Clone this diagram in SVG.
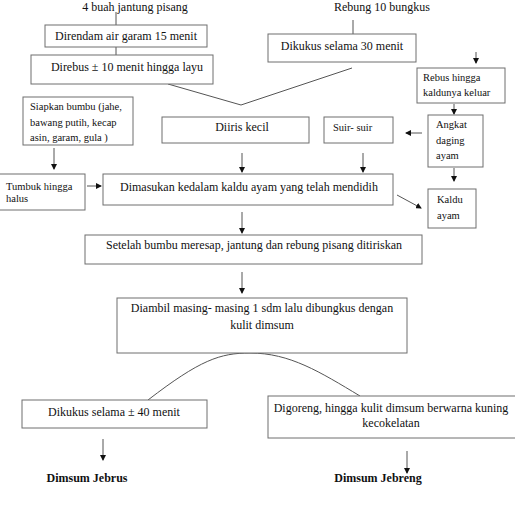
<svg xmlns="http://www.w3.org/2000/svg" width="515" height="509" viewBox="0 0 515 509" font-family="'Liberation Serif', 'Times New Roman', serif">
<defs>
<marker id="ah" markerWidth="6" markerHeight="6" refX="5" refY="3" orient="auto" markerUnits="userSpaceOnUse">
<path d="M0,0 L6,3 L0,6 Z" fill="#111"/>
</marker>
<style>
.box{fill:#fff;stroke:#6e6e6e;stroke-width:1}
.ln{fill:none;stroke:#555;stroke-width:1}
.ar{fill:none;stroke:#555;stroke-width:1;marker-end:url(#ah)}
text{font-family:'Liberation Serif', serif;fill:#111}
.m{font-size:12px}
.s{font-size:10.5px}
.c{text-anchor:middle}
.b{font-weight:bold;font-size:12px}
</style>
</defs>
<rect width="515" height="509" fill="#fff"/>
<g id="connectors">
<line class="ln" x1="116" y1="12" x2="116" y2="25"/>
<line class="ln" x1="116" y1="47" x2="116" y2="55"/>
<polyline class="ln" points="168,84 241,105 352,68"/>
<line class="ln" x1="353" y1="20" x2="353" y2="34"/>
<line class="ar" x1="476" y1="52" x2="476" y2="63"/>
<line class="ar" x1="454" y1="104" x2="454" y2="114"/>
<line class="ar" x1="422" y1="133" x2="406" y2="133"/>
<line class="ar" x1="363" y1="153" x2="363" y2="172"/>
<line class="ar" x1="242" y1="153" x2="242" y2="172"/>
<line class="ar" x1="54" y1="148" x2="54" y2="169"/>
<line class="ar" x1="87" y1="186" x2="101" y2="186"/>
<line class="ar" x1="454" y1="168" x2="454" y2="181"/>
<line class="ar" x1="397" y1="195" x2="421" y2="208"/>
<line class="ar" x1="242" y1="212" x2="242" y2="233"/>
<line class="ar" x1="242" y1="272" x2="242" y2="293"/>
<path class="ln" d="M148,400 C200,360 220,353 250,353 C290,353 320,372 360,396"/>
<line class="ar" x1="103" y1="439" x2="103" y2="460"/>
<line class="ar" x1="407" y1="451" x2="407" y2="473"/>
</g>
<g id="n-jantung"><text class="m c" x="135" y="11">4 buah jantung pisang</text></g>
<g id="n-rebung"><text class="m c" x="382" y="11">Rebung 10 bungkus</text></g>
<g id="n-direndam"><rect class="box" x="45" y="25" width="162" height="22"/><text class="m c" x="126" y="40">Direndam air garam 15 menit</text></g>
<g id="n-direbus"><rect class="box" x="31" y="55" width="182" height="29"/><text class="m c" x="127" y="71">Direbus ± 10 menit hingga layu</text></g>
<g id="n-dikukus30"><rect class="box" x="268" y="34" width="148" height="28"/><text class="m c" x="342" y="50">Dikukus selama 30 menit</text></g>
<g id="n-rebus"><rect class="box" x="417" y="68" width="88" height="35"/><text class="s" x="423" y="81">Rebus hingga</text><text class="s" x="423" y="96">kaldunya keluar</text></g>
<g id="n-siapkan"><rect class="box" x="23" y="97" width="110" height="48"/><text class="s" x="30" y="110">Siapkan bumbu (jahe,</text><text class="s" x="30" y="126">bawang putih, kecap</text><text class="s" x="30" y="141">asin, garam, gula )</text></g>
<g id="n-diiris"><rect class="box" x="162" y="117" width="147" height="26"/><text class="m c" x="242" y="131">Diiris kecil</text></g>
<g id="n-suir"><rect class="box" x="324" y="117" width="69" height="26"/><text class="s" x="333" y="131">Suir- suir</text></g>
<g id="n-angkat"><rect class="box" x="428" y="115" width="55" height="52"/><text class="s" x="436" y="128">Angkat</text><text class="s" x="436" y="144">daging</text><text class="s" x="436" y="159">ayam</text></g>
<g id="n-tumbuk"><rect class="box" x="-1" y="174" width="86" height="36"/><text class="s" x="6" y="190">Tumbuk hingga</text><text class="s" x="6" y="202">halus</text></g>
<g id="n-dimasukan"><rect class="box" x="103" y="174" width="290" height="31"/><text class="m c" x="249" y="191">Dimasukan kedalam kaldu ayam yang telah mendidih</text></g>
<g id="n-kaldu"><rect class="box" x="428" y="189" width="48" height="39"/><text class="s" x="437" y="203">Kaldu</text><text class="s" x="437" y="219">ayam</text></g>
<g id="n-setelah"><rect class="box" x="85" y="235" width="337" height="29"/><text class="m c" x="254" y="249">Setelah bumbu meresap, jantung dan rebung pisang ditiriskan</text></g>
<g id="n-diambil"><rect class="box" x="117" y="298" width="290" height="55"/><text class="m c" x="262" y="312">Diambil masing- masing 1 sdm lalu dibungkus dengan</text><text class="m c" x="262" y="329">kulit dimsum</text></g>
<g id="n-dikukus40"><rect class="box" x="22" y="400" width="185" height="28"/><text class="m c" x="114" y="416">Dikukus selama ± 40 menit</text></g>
<g id="n-digoreng"><rect class="box" x="268" y="396" width="248" height="42"/><text class="m c" x="391" y="412">Digoreng, hingga kulit dimsum berwarna kuning</text><text class="m c" x="391" y="427">kecokelatan</text></g>
<g id="n-jebrus"><text class="b c" x="87" y="482">Dimsum Jebrus</text></g>
<g id="n-jebreng"><text class="b c" x="378" y="482">Dimsum Jebreng</text></g>
</svg>
